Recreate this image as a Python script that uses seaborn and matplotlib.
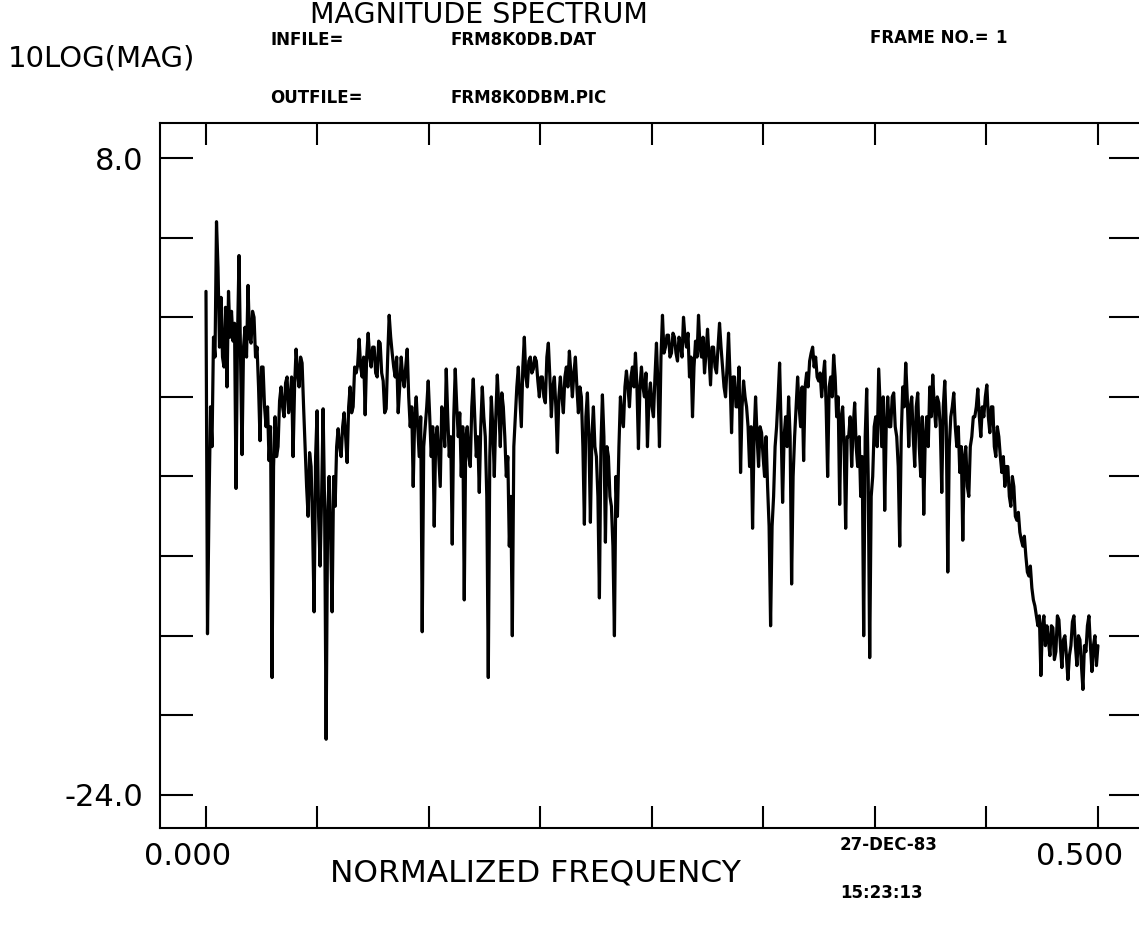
import numpy as np
import pandas as pd
import matplotlib
matplotlib.use("Agg")
import matplotlib.pyplot as plt
from matplotlib.transforms import ScaledTranslation
import seaborn as sns

# ---------------- data ----------------
# 10*log10(magnitude) at uniformly spaced normalized frequencies 0 .. 0.5
mag_db = [
    1.3, -15.9, -9.5, -4.5, -6.5, -1.0, -2.0, 4.8, 2.5, -1.5,
    1.0, -2.0, -2.5, 0.5, -3.5, 1.3, -1.0, 0.3, -1.2, -0.3,
    -8.6, -1.0, 3.1, -2.0, -6.9, -1.5, -0.5, -2.0, 1.6, -1.0,
    -1.3, 0.3, 0.0, -2.0, -1.5, -3.5, -6.2, -2.5, -2.5, -4.5,
    -5.5, -4.5, -7.2, -5.5, -18.1, -7.5, -5.0, -7.0, -6.5, -4.2,
    -3.5, -4.5, -5.0, -3.3, -3.0, -4.8, -4.2, -3.0, -7.0, -3.5,
    -1.6, -2.8, -3.5, -2.0, -2.3, -4.5, -6.5, -8.5, -10.0, -6.8,
    -7.5, -10.5, -14.8, -7.0, -4.7, -10.0, -12.5, -9.0, -4.6, -9.5,
    -21.2, -10.0, -8.0, -11.0, -14.8, -8.0, -9.5, -6.5, -5.6, -6.5,
    -7.0, -5.5, -4.8, -6.0, -7.3, -4.5, -3.5, -4.8, -4.5, -2.5,
    -2.8, -2.4, -1.1, -2.5, -3.0, -2.0, -4.9, -2.0, -0.8, -2.0,
    -2.5, -1.5, -1.5, -2.8, -3.0, -1.2, -1.3, -2.8, -3.2, -4.8,
    -4.6, -2.0, 0.1, -1.0, -1.8, -2.5, -3.0, -2.0, -4.8, -3.5,
    -2.0, -3.0, -3.5, -2.5, -1.6, -4.0, -5.5, -4.5, -8.5, -5.0,
    -4.0, -5.5, -7.0, -5.0, -15.8, -6.5, -5.5, -4.5, -3.2, -5.0,
    -7.0, -5.5, -10.5, -6.0, -5.5, -7.0, -8.5, -4.5, -5.0, -6.5,
    -2.6, -5.0, -7.0, -6.0, -11.4, -5.0, -2.6, -4.5, -6.0, -4.8,
    -8.0, -5.5, -14.2, -6.0, -5.5, -7.0, -7.5, -4.5, -3.1, -5.0,
    -7.0, -6.0, -8.8, -5.5, -3.5, -5.0, -6.0, -9.0, -18.1, -7.0,
    -4.0, -5.5, -8.0, -5.0, -2.9, -4.5, -6.5, -3.8, -4.5, -6.0,
    -8.0, -7.0, -11.5, -9.0, -16.0, -6.5, -5.0, -3.5, -2.5, -4.0,
    -5.5, -2.5, -1.0, -3.0, -3.5, -2.2, -2.0, -2.8, -2.6, -2.0,
    -2.2, -3.2, -4.0, -3.0, -3.0, -4.0, -4.3, -2.0, -1.3, -3.0,
    -5.0, -3.5, -3.0, -4.5, -6.8, -4.0, -3.0, -4.0, -4.8, -3.0,
    -2.5, -3.5, -1.7, -2.8, -4.0, -2.8, -2.0, -3.5, -4.8, -3.5,
    -4.0, -6.5, -10.4, -5.0, -3.8, -6.0, -10.3, -6.0, -4.5, -6.5,
    -7.0, -9.0, -14.1, -6.5, -3.9, -6.0, -11.3, -6.5, -7.0, -9.0,
    -9.5, -11.5, -16.0, -8.0, -10.0, -6.5, -4.0, -5.0, -5.5, -3.5,
    -2.7, -3.5, -4.5, -3.0, -2.5, -3.5, -1.8, -3.5, -6.6, -3.5,
    -2.5, -3.5, -4.0, -2.8, -6.5, -4.0, -3.3, -4.5, -5.0, -3.0,
    -1.3, -3.5, -6.5, -2.0, 0.1, -1.8, -1.5, -0.9, -0.9, -2.0,
    -1.8, -0.8, -1.0, -1.8, -2.2, -1.0, -1.3, -2.0, 0.0, -1.0,
    -1.5, -0.8, -3.0, -2.0, -5.0, -2.5, -1.2, -2.0, 0.1, -1.5,
    -2.0, -1.0, -2.8, -1.8, -0.6, -2.0, -3.4, -1.5, -1.5, -2.5,
    -2.8, -1.5, -0.3, -1.5, -2.5, -3.5, -4.0, -2.5, -0.8, -3.0,
    -5.8, -3.0, -3.0, -4.5, -4.5, -2.5, -7.8, -4.5, -3.2, -4.0,
    -4.5, -5.5, -7.5, -5.5, -10.6, -6.0, -4.0, -6.0, -7.5, -5.5,
    -5.8, -7.0, -8.0, -6.0, -8.5, -10.5, -15.5, -10.5, -9.0, -6.5,
    -5.5, -4.0, -2.3, -5.5, -9.3, -6.0, -5.0, -6.5, -4.0, -6.0,
    -13.4, -8.0, -6.0, -4.5, -3.0, -4.5, -5.5, -3.5, -7.2, -3.5,
    -2.8, -3.5, -2.2, -1.8, -1.5, -2.5, -2.0, -3.0, -3.2, -2.8,
    -4.0, -3.0, -2.2, -4.5, -8.0, -3.5, -3.0, -4.0, -1.9, -3.0,
    -5.0, -4.0, -9.4, -5.0, -4.5, -6.5, -10.6, -6.0, -6.0, -5.0,
    -7.5, -5.5, -4.3, -6.5, -7.5, -6.0, -9.0, -7.0, -16.0, -6.0,
    -3.6, -8.0, -17.1, -9.0, -8.0, -5.5, -5.0, -6.5, -2.6, -4.5,
    -6.5, -4.0, -9.7, -5.5, -4.0, -5.5, -5.5, -4.0, -3.8, -5.5,
    -6.0, -7.5, -11.5, -6.0, -3.5, -4.5, -2.3, -4.0, -6.5, -4.5,
    -4.0, -6.0, -7.5, -4.5, -3.8, -6.5, -8.0, -5.0, -9.9, -6.0,
    -5.0, -6.5, -3.5, -5.0, -2.9, -4.5, -5.5, -4.0, -4.3, -5.5,
    -8.8, -4.5, -3.2, -5.5, -12.8, -6.5, -5.0, -4.5, -3.8, -5.5,
    -6.5, -5.5, -7.8, -6.5, -11.2, -7.0, -6.5, -8.5, -9.0, -6.5,
    -6.0, -5.0, -5.0, -4.5, -3.6, -5.0, -6.0, -4.5, -5.0, -4.0,
    -3.4, -5.0, -5.8, -4.5, -4.5, -6.5, -7.0, -5.5, -6.0, -7.0,
    -7.8, -7.0, -8.5, -7.5, -7.5, -9.0, -9.5, -8.0, -8.5, -10.0,
    -10.2, -9.8, -10.8, -11.2, -11.5, -11.0, -12.0, -12.8, -13.0, -12.5,
    -13.6, -14.2, -14.5, -15.0, -15.5, -15.0, -18.0, -15.5, -15.0, -16.5,
    -15.5, -16.2, -17.0, -15.5, -15.6, -17.2, -16.8, -15.0, -15.2, -16.5,
    -17.6, -16.2, -16.0, -17.0, -18.2, -17.0, -16.5, -15.3, -15.0, -16.5,
    -17.5, -16.0, -16.2, -17.5, -18.7, -16.5, -16.8, -15.5, -15.0, -16.5,
    -17.8, -16.5, -16.0, -17.5, -16.5,
]
# FFT bins are evenly spaced from 0 to the Nyquist frequency 0.5
freq = np.linspace(0.0, 0.5, len(mag_db))

x_ticks = [0.0, 0.0625, 0.125, 0.1875, 0.25, 0.3125, 0.375, 0.4375, 0.5]
x_tick_labels = ["0.000", "", "", "", "", "", "", "", "0.500"]
y_ticks = [8, 4, 0, -4, -8, -12, -16, -20, -24]
y_tick_labels = ["8.0", "", "", "", "", "", "", "", "-24.0"]

title = "MAGNITUDE SPECTRUM"
y_label = "10LOG(MAG)"
x_label = "NORMALIZED FREQUENCY"
infile_label, infile_name = "INFILE=", "FRM8K0DB.DAT"
outfile_label, outfile_name = "OUTFILE=", "FRM8K0DBM.PIC"
frame_label, frame_no = "FRAME NO.=", "1"
date_str, time_str = "27-DEC-83", "15:23:13"

# ---------------- figure ----------------
sns.set_style("white")
plt.rcParams["font.family"] = ["DejaVu Sans"]

W, H = 1139, 932
fig = plt.figure(figsize=(W / 100, H / 100), dpi=100)
fig.patch.set_facecolor("white")

# axes box in pixels: left 160, right 1142 (just off canvas), top 123, bottom 828
L, R, T, B = 160, 1142, 123, 828
ax = fig.add_axes([L / W, 1 - B / H, (R - L) / W, (B - T) / H])

df = pd.DataFrame({"freq": freq, "mag": mag_db})
sns.lineplot(data=df, x="freq", y="mag", ax=ax, color="black",
             linewidth=2.3, estimator=None, sort=False)

ax.set_xlim(-0.02578, 0.5247)
ax.set_ylim(-25.66, 9.76)
ax.set_xlabel("")
ax.set_ylabel("")

ax.set_xticks(x_ticks)
ax.set_xticklabels(x_tick_labels)
ax.set_yticks(y_ticks)
ax.set_yticklabels(y_tick_labels)

ax.tick_params(axis="x", direction="in", length=16, width=1.5,
               top=True, bottom=True, pad=10, labelsize=22, colors="black")
ax.tick_params(axis="y", direction="in", length=24, width=1.5,
               left=True, right=True, pad=12, labelsize=22, colors="black")
for lab in ax.get_xticklabels():
    lab.set_transform(lab.get_transform() +
                      ScaledTranslation(-18 / 100, 0, fig.dpi_scale_trans))

for s in ax.spines.values():
    s.set_linewidth(1.5)
    s.set_color("black")
    s.set_visible(True)


def ftext(xp, yp, s, **kw):
    fig.text(xp / W, 1 - yp / H, s, va="center", ha="left", color="black", **kw)


ftext(310, 15, title, fontsize=20.5)
ftext(8, 58, y_label, fontsize=21)
ftext(330, 873, x_label, fontsize=22.5)
ftext(270, 40, infile_label, fontsize=12, fontweight="bold")
ftext(450, 40, infile_name, fontsize=12, fontweight="bold")
ftext(870, 38, frame_label, fontsize=12, fontweight="bold")
ftext(995, 38, frame_no, fontsize=12, fontweight="bold")
ftext(270, 98, outfile_label, fontsize=12, fontweight="bold")
ftext(450, 98, outfile_name, fontsize=12, fontweight="bold")
ftext(840, 845, date_str, fontsize=12, fontweight="bold")
ftext(840, 893, time_str, fontsize=12, fontweight="bold")

fig.savefig("out.png", dpi=100, facecolor="white")
